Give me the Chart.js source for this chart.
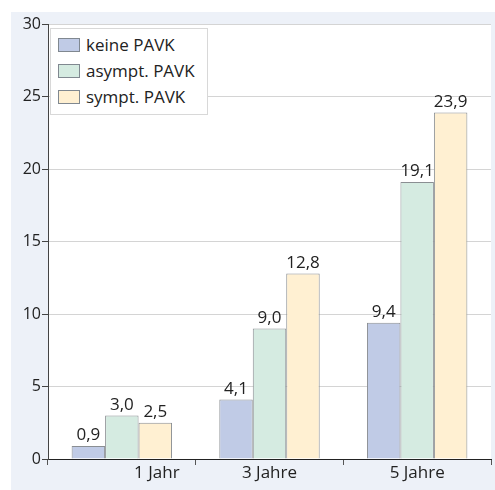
<!DOCTYPE html>
<html><head><meta charset="utf-8">
<script src="https://cdn.jsdelivr.net/npm/chart.js@4"></script>
<style>
html,body{margin:0;padding:0;background:#fff;}
#wrap{position:absolute;left:11px;top:12px;width:484px;height:478px;background:#edf1f8;}
#c{position:absolute;left:0;top:0;}
#legend{position:absolute;left:39px;top:16px;width:156px;height:85px;background:#fff;border:1px solid #d8d8d8;font-family:"Open Sans",sans-serif;font-size:17px;color:#222;}
.row{position:absolute;left:7px;height:26px;line-height:26px;white-space:nowrap;}
.sw{display:inline-block;width:20px;height:12px;border:1px solid #808890;vertical-align:middle;margin-right:6px;position:relative;top:-1px;}
</style></head>
<body>
<div id="wrap"><canvas id="c" width="484" height="478"></canvas>
<div id="legend"></div></div>
<script>
const categories = ["1 Jahr", "3 Jahre", "5 Jahre"];
const seriesNames = ["keine PAVK", "asympt. PAVK", "sympt. PAVK"];
const keinePAVK = [0.9, 4.1, 9.4];
const asymptPAVK = [3.0, 9.0, 19.1];
const symptPAVK = [2.5, 12.8, 23.9];
const yTicks = [0, 5, 10, 15, 20, 25, 30];

const fills = ["#c0cbe6", "#d5ebe1", "#fff0d2"];
const border = "#8a8e92";
const FONT = '"Open Sans", sans-serif';

const lg = document.getElementById('legend');
seriesNames.forEach((n, i) => {
  const r = document.createElement('div');
  r.className = 'row';
  r.style.top = (3 + i * 26) + 'px';
  r.innerHTML = '<span class="sw" style="background:' + fills[i] + '"></span>' + n;
  lg.appendChild(r);
});

const bgPlugin = {
  id: 'bg',
  beforeDraw(chart) {
    const a = chart.chartArea, ctx = chart.ctx;
    ctx.save(); ctx.fillStyle = '#fff';
    ctx.fillRect(a.left, a.top, a.right - a.left, a.bottom - a.top);
    ctx.restore();
  }
};
const valuePlugin = {
  id: 'vals',
  afterDatasetsDraw(chart) {
    const ctx = chart.ctx;
    ctx.save();
    ctx.font = '17px ' + FONT;
    ctx.fillStyle = '#222';
    ctx.textAlign = 'center';
    ctx.textBaseline = 'bottom';
    chart.data.datasets.forEach((ds, di) => {
      chart.getDatasetMeta(di).data.forEach((bar, i) => {
        ctx.fillText(ds.data[i].toFixed(1).replace('.', ','), bar.x, bar.y - 2);
      });
    });
    ctx.restore();
  }
};
const xLabelShift = [35, 0, 0];
const xLabelPlugin = {
  id: 'xlab',
  afterDraw(chart) {
    const ctx = chart.ctx, xs = chart.scales.x;
    ctx.save();
    ctx.font = '17px ' + FONT;
    ctx.fillStyle = '#222';
    ctx.textAlign = 'center';
    ctx.textBaseline = 'middle';
    categories.forEach((c, i) => {
      ctx.fillText(c, xs.getPixelForValue(i) + xLabelShift[i], xs.top + 14);
    });
    ctx.restore();
  }
};

new Chart(document.getElementById('c'), {
  type: 'bar',
  data: {
    labels: categories,
    datasets: [keinePAVK, asymptPAVK, symptPAVK].map((d, i) => ({
      label: seriesNames[i], data: d,
      backgroundColor: fills[i], borderColor: border, borderWidth: 1,
      categoryPercentage: 0.68, barPercentage: 1.0
    }))
  },
  options: {
    responsive: false, animation: false,
    layout: { padding: { top: 12, right: 4, left: 0, bottom: 0 } },
    plugins: { legend: { display: false }, tooltip: { enabled: false } },
    scales: {
      x: {
        afterFit(s) { s.height = 31; },
        grid: { display: true, drawOnChartArea: false, drawTicks: true, tickLength: 6, offset: true, tickColor: '#555', lineWidth: 1 },
        border: { color: '#222', width: 1 },
        ticks: { display: false }
      },
      y: {
        min: 0, max: 30,
        afterFit(s) { s.width = 37; },
        afterBuildTicks(s) { s.ticks = yTicks.map(v => ({ value: v })); },
        grid: { color: '#d4d4d4', tickColor: '#444', tickLength: 6, drawTicks: true },
        border: { color: '#444', width: 1 },
        ticks: { font: { family: FONT, size: 16 }, color: '#222', padding: 1 }
      }
    }
  },
  plugins: [bgPlugin, valuePlugin, xLabelPlugin]
});
</script>
</body></html>
